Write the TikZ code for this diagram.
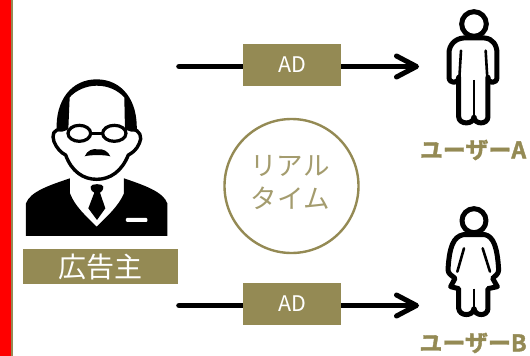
\documentclass[tikz,border=0pt]{standalone}
\usepackage{fontspec}
\setmainfont{Noto Sans CJK JP}
\newfontfamily\userfont[UprightFont={* Bold},UprightFeatures={FakeBold=1.6}]{Noto Sans CJK JP}
\definecolor{olive}{HTML}{948A54}
\usetikzlibrary{arrows.meta}
\tikzset{
 adbox/.style={fill=olive,minimum width=98pt,minimum height=42pt,inner sep=0pt,text=white,font=\fontsize{21.5}{21.5}\selectfont},
 flow/.style={line width=5.6pt,line cap=round,-{Straight Barb[length=20pt,width=21pt,line width=5pt,round]}},
 userlabel/.style={text=olive,font=\fontsize{23}{23}\selectfont\userfont,inner sep=0pt},
 ol/.style={draw=black,line width=5pt,fill=white,line join=round},
}
\begin{document}
\begin{tikzpicture}[x=1pt,y=-1pt]
\useasboundingbox (0,0) rectangle (530,356);
\fill[white] (0,0) rectangle (530,356);
\fill[red] (0,0) rectangle (11,356);
\fill[olive] (11,0) rectangle (13,356);
% connectors
\coordinate (s1) at (179,66.5);
\coordinate (e1) at (419,66.5);
\coordinate (s2) at (179,305.5);
\coordinate (e2) at (419,305.5);
\draw[flow] (s1) -- (e1);
\draw[flow] (s2) -- (e2);
\node[adbox] (ad1) at (292,65) {AD};
\node[adbox] (ad2) at (292,304) {AD};
\fill[olive] (243,45) rectangle (341,46);
\fill[olive] (243,284) rectangle (341,285);
% circle
\node[circle,draw=olive,line width=2.4pt,fill=white,minimum size=134pt,inner sep=0pt] (rt) at (291.5,186) {};
\node[text=olive!85!white,font=\fontsize{26.5}{33}\selectfont,align=center,inner sep=0pt] (rtt) at (290,183) {リアル\\タイム};
% advertiser
\begin{scope}[shift={(0,60)},x=0.3333pt,y=-0.3333pt]
 % suit
 \fill[black] (78,528) -- (78,430) .. controls (90,395) and (150,375) .. (210,355) -- (210,400) .. controls (225,440) and (260,470) .. (290,500) .. controls (320,470) and (355,440) .. (372,400) -- (372,355) .. controls (430,375) and (490,395) .. (502,430) -- (502,528) -- cycle;
 \fill[white,rounded corners=1pt] (378,474) rectangle (442,486);
 % tie
 \fill[black] (272,380) .. controls (272,370) and (310,370) .. (310,380) .. controls (310,392) and (303,396) .. (300,398) -- (316,445) -- (291,480) -- (265,445) -- (283,398) .. controls (278,396) and (272,392) .. (272,380) -- cycle;
 % hair dome
 \fill[black] (170,215) .. controls (165,120) and (215,58) .. (290,58) .. controls (365,58) and (415,120) .. (410,215) -- cycle;
 % face
 \draw[line width=3.4pt,fill=white,line join=round] (200,205) -- (204,110) .. controls (225,85) and (260,72) .. (290,72) .. controls (325,72) and (355,85) .. (378,110) -- (380,205) -- (395,210) .. controls (420,205) and (428,235) .. (418,250) .. controls (410,270) and (395,280) .. (385,285) .. controls (365,335) and (330,358) .. (290,358) .. controls (250,358) and (215,335) .. (197,285) .. controls (185,280) and (170,265) .. (162,245) .. controls (155,225) and (160,205) .. (185,210) -- cycle;
 % glasses
 \draw[line width=3.2pt,fill=white] (238,220) ellipse[x radius=34,y radius=24];
 \draw[line width=3.2pt,fill=white] (343,220) ellipse[x radius=35,y radius=24];
 \draw[line width=3.2pt] (272,220) -- (308,220);
 % moustache
 \fill[black] (254,289) .. controls (262,270) and (280,265) .. (292,268) .. controls (310,265) and (325,275) .. (331,289) .. controls (315,284) and (270,284) .. (254,289) -- cycle;
\end{scope}
\node[fill=olive,minimum width=155pt,minimum height=35pt,inner sep=0pt,text=white,font=\fontsize{28}{28}\selectfont] (adv) at (100.5,266.5) {広告主};
% user A
\begin{scope}[shift={(400,0)},x=0.3333pt,y=-0.3333pt]
 \draw[ol] (222,72) circle[radius=37];
 \draw[ol] (190,114) -- (254,114) .. controls (278,116) and (291,135) .. (291,160) -- (291,232) .. controls (291,252) and (264,252) .. (264,232) -- (264,350) .. controls (264,375) and (222,375) .. (222,350) .. controls (222,375) and (176,375) .. (176,350) -- (176,232) .. controls (176,252) and (147,252) .. (147,232) -- (147,160) .. controls (147,135) and (165,116) .. (190,114) -- cycle;
 \draw[line width=2.8pt] (222,240) -- (222,350);
 \draw[line width=2.6pt,line cap=round] (183,152) -- (178,235);
 \draw[line width=2.6pt,line cap=round] (257,152) -- (262,235);
\end{scope}
\node[userlabel] (ua) at (473,150) {ユーザーA};
% user B
\begin{scope}[shift={(400,190)},x=0.3333pt,y=-0.3333pt]
 \draw[ol] (222,92) circle[radius=36];
 \draw[ol] (190,134) -- (255,134) .. controls (280,140) and (292,170) .. (296,240) .. controls (296,252) and (285,258) .. (278,265) -- (292,290) -- (264,296) -- (264,355) .. controls (264,380) and (224,380) .. (222,355) .. controls (220,380) and (178,380) .. (176,355) -- (176,296) -- (152,290) -- (165,265) .. controls (158,258) and (144,252) .. (144,240) .. controls (148,170) and (160,140) .. (190,134) -- cycle;
 \draw[line width=2.8pt] (222,296) -- (222,355);
 \draw[line width=2.6pt,line cap=round] (192,175) -- (172,245);
 \draw[line width=2.6pt,line cap=round] (248,175) -- (270,245);
\end{scope}
\node[userlabel] (ub) at (473,343) {ユーザーB};
\end{tikzpicture}
\end{document}
